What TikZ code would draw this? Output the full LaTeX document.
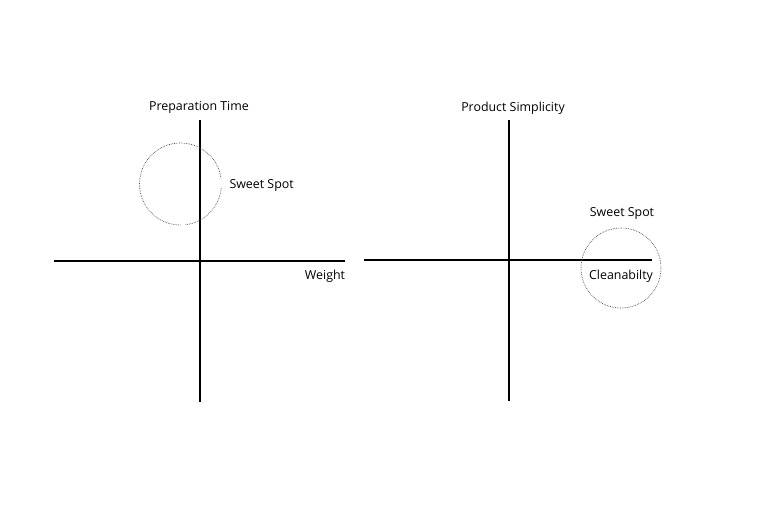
\documentclass[tikz,border=0pt]{standalone}
\usepackage{fontspec}
\setmainfont{Open Sans}
\begin{document}
\begin{tikzpicture}[x=1pt, y=-1pt, font=\fontsize{12.4}{14}\selectfont,
    axis/.style={line width=2.6pt},
    spot/.style={densely dotted, gray!60!black, line width=0.7pt},
    lbl/.style={yshift=-2pt}]
    \useasboundingbox (0,0) rectangle (768,513);
    % left chart
    \coordinate (lt) at (200,120); \coordinate (lb) at (200,402);
    \coordinate (ll) at (54,261);  \coordinate (lr) at (345,261);
    \draw[axis] (lt) -- (lb);
    \draw[axis] (ll) -- (lr);
    \coordinate (lc) at (180.5,184);
    \draw[spot] (lc) ++(6:41) arc[start angle=6, end angle=83, radius=41];
    \draw[spot] (lc) ++(90:41) arc[start angle=90, end angle=352, radius=41];
    \node[lbl] (prep) at (199,105) {Preparation Time};
    \node[lbl, anchor=west] (spotl) at (226,184) {Sweet Spot};
    \node[lbl] (weight) at (325,274) {Weight};
    % right chart
    \coordinate (rt) at (509,120); \coordinate (rb) at (509,401);
    \coordinate (rl) at (364,260); \coordinate (rr) at (652,260);
    \draw[axis] (rt) -- (rb);
    \draw[axis] (rl) -- (rr);
    \draw[spot] (621,268) circle[radius=40];
    \node[lbl] (simp) at (513,106) {Product Simplicity};
    \node[lbl] (spotr) at (622,211) {Sweet Spot};
    \node[lbl] (clean) at (621,274) {Cleanabilty};
\end{tikzpicture}
\end{document}
